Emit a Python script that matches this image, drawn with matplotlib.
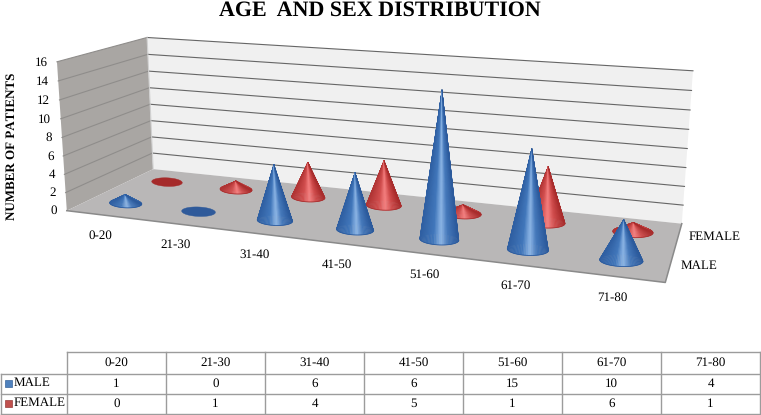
import matplotlib
matplotlib.use("Agg")
import matplotlib.pyplot as plt
from matplotlib.colors import LinearSegmentedColormap
from matplotlib.patches import Polygon, Rectangle
import numpy as np

categories = ["0-20", "21-30", "31-40", "41-50", "51-60", "61-70", "71-80"]
male = [1, 0, 6, 6, 15, 10, 4]
female = [0, 1, 4, 5, 1, 6, 1]
yticks = [0, 2, 4, 6, 8, 10, 12, 14, 16]

plt.rcParams['font.family'] = ['Liberation Serif', 'DejaVu Serif']
plt.rcParams['text.hinting'] = 'no_hinting'
plt.rcParams['text.hinting_factor'] = 1

# corners of the 3D box (category, series, value) -> pixel in the reference
world = [(0, 0, 0), (0, 2, 0), (7, 2, 0), (7, 0, 0), (0, 0, 16), (0, 2, 16), (7, 2, 16)]
pix = [(67, 211), (153, 169), (682, 223), (665, 283), (57, 61), (147, 38), (693, 71)]

A = []
for (x, y, z), (a, b) in zip(world, pix):
    a, b = a / 100, b / 100
    A.append([x, y, z, 1, 0, 0, 0, 0, -a * x, -a * y, -a * z, -a])
    A.append([0, 0, 0, 0, x, y, z, 1, -b * x, -b * y, -b * z, -b])
P = np.linalg.svd(np.array(A))[2][-1].reshape(3, 4)


def proj(x, y, z):
    q = P @ np.array([x, y, z, 1.0])
    return q[0] / q[2] * 100, q[1] / q[2] * 100


blue_cm = LinearSegmentedColormap.from_list(
    "b", [(0, "#2f5fa2"), (0.35, "#4177bb"), (0.55, "#8db6e6"), (0.72, "#4679bc"), (1, "#2c5a9c")])
red_cm = LinearSegmentedColormap.from_list(
    "r", [(0, "#b03434"), (0.35, "#d24e4e"), (0.55, "#f58080"), (0.75, "#cf4a4a"), (1, "#a82c2c")])


def cone(ax, cat, ser, val, cm, flat, edge):
    c = np.array(proj(cat + 0.5, ser + 0.5, 0))
    rx = proj(cat + 0.725, ser + 0.5, 0)[0] - c[0]
    side = np.array([rx, 0.04 * rx])
    up = np.array([0, -0.28 * rx])
    th = np.linspace(0, 2 * np.pi, 73)
    base = np.array([c + side * np.cos(t) + up * np.sin(t) for t in th])
    if val == 0:
        ax.add_patch(Polygon(base, closed=True, fc=flat, ec=flat, lw=0.3, zorder=3))
        return
    top = np.array(proj(cat + 0.5, ser + 0.5, val))
    x0 = base[:, 0].min()
    x1 = base[:, 0].max()
    # back half of the base first, front half (36..72) on top
    for i in range(72):
        a, b = base[i], base[i + 1]
        col = cm(np.clip((((a[0] + b[0]) / 2) - x0) / (x1 - x0), 0, 1))
        ax.add_patch(Polygon([top, a, b], closed=True, fc=col, ec=col, lw=0.3, zorder=3))
    ax.plot(base[36:73, 0], base[36:73, 1], color=edge, lw=0.6, zorder=3)


fig = plt.figure(figsize=(7.61, 4.15), dpi=100)
ax = fig.add_axes([0, 0, 1, 1])
ax.set_xlim(0, 761)
ax.set_ylim(415, 0)
ax.axis("off")

# walls and floor
ax.add_patch(Polygon([proj(0, 0, 0), proj(0, 2, 0), proj(0, 2, 16), proj(0, 0, 16)], fc="#a9a6a3", ec="none", zorder=1))
ax.add_patch(Polygon([proj(0, 2, 0), proj(7, 2, 0), proj(7, 2, 16), proj(0, 2, 16)], fc="#f0f0f0", ec="none", zorder=1))
ax.add_patch(Polygon([proj(0, 0, 0), proj(7, 0, 0), proj(7, 2, 0), proj(0, 2, 0)], fc="#b9b7b7", ec="none", zorder=1))

for v in yticks:
    if v > 0:
        p = [proj(0, 0, v), proj(0, 2, v), proj(7, 2, v)]
        ax.plot([p[0][0], p[1][0]], [p[0][1], p[1][1]], color="#8f8d8b", lw=0.8, zorder=2)
        ax.plot([p[1][0], p[2][0]], [p[1][1], p[2][1]], color="#666666", lw=0.8, zorder=2)
    a, b = proj(0, 0, v)
    ax.text(a - 9.5, b + 0.5, str(v), ha="right", va="center", fontsize=9)

p = [proj(0, 0, 0), proj(7, 0, 0), proj(7, 2, 0)]
ax.plot([q[0] for q in p], [q[1] for q in p], color="#8a8a8a", lw=1.1, zorder=2)
p = [proj(0, 2, 0), proj(0, 2, 16)]
ax.plot([q[0] for q in p], [q[1] for q in p], color="#d0d0d0", lw=0.8, zorder=2)

for i, c in enumerate(categories):
    a, b = proj(i + 0.5, 0, 0)
    ax.text(a - 2, b + 21, c, ha="center", va="center", fontsize=9)

for j, s in enumerate(["MALE", "FEMALE"]):
    a, b = proj(7, j + 0.5, 0)
    ax.text(a + 11, b, s, ha="left", va="center", fontsize=9)

# cones, back row first
for i in range(7):
    cone(ax, i, 1, female[i], red_cm, "#a52a2a", "#a83030")
for i in range(7):
    cone(ax, i, 0, male[i], blue_cm, "#2f5a9a", "#2a5a9e")

ax.text(380, 16, "AGE  AND SEX DISTRIBUTION", ha="center", va="baseline", fontsize=16, fontweight="bold")
ax.text(11.5, 146, "NUMBER OF PATIENTS", ha="center", va="center", rotation=90, fontsize=9, fontweight="bold")

# data table
col = 99
left = 67
rows = [352, 373.5, 393.5, 413.5]
grey = "#9c9c9c"
ax.plot([left, left + 7 * col], [rows[0], rows[0]], color=grey, lw=1)
for r in rows[1:]:
    ax.plot([1, left + 7 * col], [r, r], color=grey, lw=1)
ax.plot([1, 1], [rows[1], rows[3]], color=grey, lw=1)
for i in range(8):
    ax.plot([left + i * col, left + i * col], [rows[0], rows[3]], color=grey, lw=1)

for i, c in enumerate(categories):
    xc = left + (i + 0.5) * col
    ax.text(xc, (rows[0] + rows[1]) / 2, c, ha="center", va="center", fontsize=9)
    ax.text(xc, (rows[1] + rows[2]) / 2, str(male[i]), ha="center", va="center", fontsize=9)
    ax.text(xc, (rows[2] + rows[3]) / 2, str(female[i]), ha="center", va="center", fontsize=9)

ax.add_patch(Rectangle((5, 379.5), 7, 7, fc="#4f81bd", ec="#3a659c", lw=0.5))
ax.add_patch(Rectangle((5, 399.5), 7, 7, fc="#c0504d", ec="#983e3c", lw=0.5))
ax.text(14, (rows[1] + rows[2]) / 2 - 0.5, "MALE", ha="left", va="center", fontsize=9)
ax.text(14, (rows[2] + rows[3]) / 2 - 0.5, "FEMALE", ha="left", va="center", fontsize=9)

fig.savefig("out.png", dpi=100)
